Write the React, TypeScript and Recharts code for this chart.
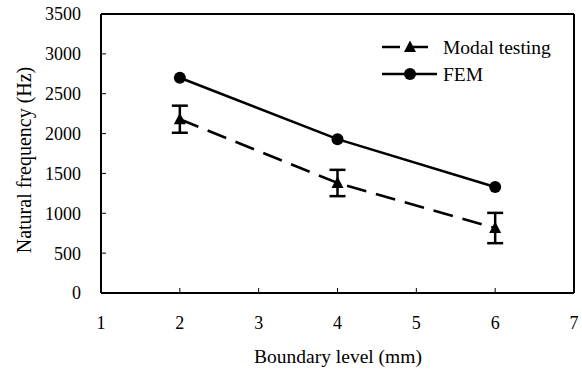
import React from 'react'
import {
    LineChart,
    Line,
    XAxis,
    YAxis,
    ErrorBar,
    ReferenceLine
} from 'recharts'

const boundaryLevels = [2, 4, 6]
const modalTesting = [2180, 1380, 815]
const modalError = [170, 165, 190]
const femValues = [2700, 1930, 1330]

const xTicks = [1, 2, 3, 4, 5, 6, 7]
const yTicks = [0, 500, 1000, 1500, 2000, 2500, 3000, 3500]

const seriesNames = { modal: 'Modal testing', fem: 'FEM' }

const chartData = boundaryLevels.map((b, i) => ({
    boundary: b,
    modal: modalTesting[i],
    modalErr: modalError[i],
    fem: femValues[i]
}))

const FONT = 'Liberation Serif'

const Triangle = (props: any) => {
    const { cx, cy } = props
    if (cx == null || cy == null) return null
    return <path d={`M${cx},${cy - 6.5} L${cx + 6},${cy + 5} L${cx - 6},${cy + 5} Z`} fill="#000" />
}

const Dot = (props: any) => {
    const { cx, cy } = props
    if (cx == null || cy == null) return null
    return <circle cx={cx} cy={cy} r={6} fill="#000" />
}

export default function App() {
    const tickStyle = { fontSize: 18, fill: '#000', style: { fontFamily: FONT } }
    const textStyle = { fontFamily: FONT, fontSize: 19.5 }
    return (
        <div style={{ position: 'absolute', left: 0, top: 0, background: '#fff', fontFamily: FONT }}>
            <LineChart
                width={582}
                height={369}
                data={chartData}
                margin={{ top: 14, right: 8, left: 0, bottom: 0 }}
                style={{ fontFamily: FONT }}
            >
                <XAxis
                    dataKey="boundary"
                    type="number"
                    domain={[1, 7]}
                    ticks={xTicks}
                    height={76}
                    stroke="#000"
                    strokeWidth={2}
                    tickSize={-5}
                    tickMargin={28}
                    tick={tickStyle}
                    tickLine={{ stroke: '#000', strokeWidth: 1 }}
                    allowDataOverflow
                />
                <YAxis
                    type="number"
                    domain={[0, 3500]}
                    ticks={yTicks}
                    width={101}
                    stroke="#000"
                    strokeWidth={2}
                    tickSize={-5}
                    tickMargin={25}
                    tick={tickStyle}
                    tickLine={{ stroke: '#000', strokeWidth: 1 }}
                    allowDataOverflow
                />
                <ReferenceLine y={3500} stroke="#000" strokeWidth={2} />
                <ReferenceLine x={7} stroke="#000" strokeWidth={2} />
                <Line
                    dataKey="modal"
                    name={seriesNames.modal}
                    stroke="#000"
                    strokeWidth={2.5}
                    strokeDasharray="20 10"
                    dot={<Triangle />}
                    isAnimationActive={false}
                >
                    <ErrorBar dataKey="modalErr" direction="y" width={8} stroke="#000" strokeWidth={2.5} isAnimationActive={false} />
                </Line>
                <Line
                    dataKey="fem"
                    name={seriesNames.fem}
                    stroke="#000"
                    strokeWidth={2.5}
                    dot={<Dot />}
                    isAnimationActive={false}
                />
                {/* legend */}
                <g>
                    <line x1={382} y1={47} x2={437} y2={47} stroke="#000" strokeWidth={2.5} strokeDasharray="18 10" />
                    <path d="M410,40.5 L416,52 L404,52 Z" fill="#000" />
                    <text x={443} y={53.5} style={textStyle}>{seriesNames.modal}</text>
                    <line x1={382} y1={74} x2={437} y2={74} stroke="#000" strokeWidth={2.5} />
                    <circle cx={410} cy={74} r={6} fill="#000" />
                    <text x={443} y={80.5} style={textStyle}>{seriesNames.fem}</text>
                </g>
                <text x={338} y={363} textAnchor="middle" style={textStyle}>
                    Boundary level (mm)
                </text>
                <text
                    x={31}
                    y={160}
                    textAnchor="middle"
                    style={{ fontFamily: FONT, fontSize: 20 }}
                    transform="rotate(-90 31 160)"
                >
                    Natural frequency (Hz)
                </text>
            </LineChart>
        </div>
    )
}
